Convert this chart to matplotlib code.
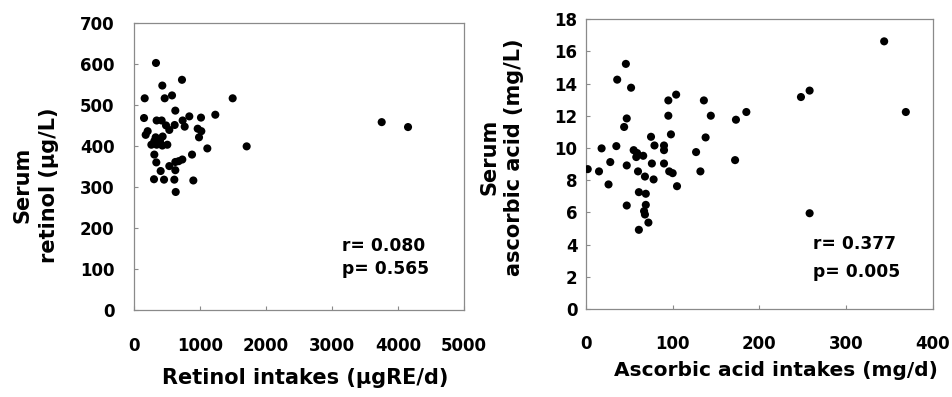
import matplotlib
matplotlib.use("Agg")
import matplotlib.pyplot as plt

# Left panel: retinol
retinol_intake = [333, 429, 727, 162, 465, 576, 1495, 626, 152, 343, 419, 737, 838, 1015, 1232,
                  485, 616, 768, 535, 207, 177, 328, 434, 965, 1020, 985, 263, 343, 429, 505,
                  308, 394, 1111, 308, 879, 338, 535, 626, 677, 732, 626, 404, 303, 455, 611,
                  899, 632, 1707, 3753, 4152]
serum_retinol = [602, 547, 561, 516, 516, 523, 516, 486, 468, 462, 462, 462, 472, 469, 476,
                 450, 451, 447, 439, 436, 427, 421, 423, 442, 436, 421, 403, 403, 401, 403,
                 412, 412, 394, 379, 379, 360, 351, 361, 363, 367, 341, 339, 319, 318, 318,
                 316, 288, 399, 458, 446]

# Right panel: ascorbic acid
ascorbic_intake = [46, 36, 52, 47, 44, 95, 104, 95, 98, 75, 79, 90, 90, 35, 18, 28, 2, 15, 26,
                   55, 59, 66, 58, 47, 76, 90, 60, 68, 78, 96, 100, 105, 61, 69, 69, 47, 67, 68,
                   72, 61, 127, 132, 136, 144, 138, 173, 185, 172, 248, 258, 344, 369, 258]
serum_ascorbic = [15.23, 14.25, 13.75, 11.84, 11.31, 12.96, 13.32, 12.01, 10.85, 10.70, 10.16,
                  10.16, 9.87, 10.12, 9.98, 9.13, 8.69, 8.55, 7.74, 9.87, 9.69, 9.52, 9.44, 8.92,
                  9.04, 9.04, 8.55, 8.23, 8.05, 8.55, 8.44, 7.63, 7.26, 7.16, 6.47, 6.43, 6.08,
                  5.87, 5.37, 4.92, 9.75, 8.55, 12.96, 12.01, 10.66, 11.76, 12.24, 9.25, 13.17,
                  13.57, 16.63, 12.24, 5.95]

left_xticks = [0, 1000, 2000, 3000, 4000, 5000]
left_yticks = [0, 100, 200, 300, 400, 500, 600, 700]
right_xticks = [0, 100, 200, 300, 400]
right_yticks = [0, 2, 4, 6, 8, 10, 12, 14, 16, 18]

left_stats = ["r= 0.080", "p= 0.565"]
right_stats = ["r= 0.377", "p= 0.005"]

W, H = 952, 397
plt.rcParams['font.family'] = ['DejaVu Sans']
plt.rcParams['font.weight'] = 'bold'
fig = plt.figure(figsize=(W / 100, H / 100), dpi=100)

def frac_box(l, t, r, b):
    return [l / W, 1 - b / H, (r - l) / W, (b - t) / H]

ax1 = fig.add_axes(frac_box(134, 22.7, 464, 310.3))
ax2 = fig.add_axes(frac_box(586, 19.3, 932.7, 309))

spine_col = '#8a8a8a'
for ax in (ax1, ax2):
    for s in ax.spines.values():
        s.set_color(spine_col)
        s.set_linewidth(0.9)
    ax.tick_params(direction='in', length=3, width=0.8, color=spine_col,
                   labelsize=12, labelcolor='black')

ax1.scatter(retinol_intake, serum_retinol, s=34, color='black', edgecolors='none', zorder=3)
ax1.set_xlim(0, 5000)
ax1.set_ylim(0, 700)
ax1.set_xticks(left_xticks)
ax1.set_yticks(left_yticks)
ax1.tick_params(axis='x', pad=19)
ax1.tick_params(axis='y', pad=14)
ax1.set_xticklabels([str(v) for v in left_xticks], fontweight='bold')
ax1.set_yticklabels([str(v) for v in left_yticks], fontweight='bold')

ax2.scatter(ascorbic_intake, serum_ascorbic, s=34, color='black', edgecolors='none', zorder=3)
ax2.set_xlim(0, 400)
ax2.set_ylim(0, 18)
ax2.set_xticks(right_xticks)
ax2.set_yticks(right_yticks)
ax2.tick_params(axis='x', pad=19)
ax2.tick_params(axis='y', pad=6)
ax2.set_xticklabels([str(v) for v in right_xticks], fontweight='bold')
ax2.set_yticklabels([str(v) for v in right_yticks], fontweight='bold')

fig.text(305 / W, 1 - 378 / H, "Retinol intakes (\u03bcgRE/d)", ha='center', va='center',
         fontsize=15, fontweight='bold')
fig.text(776 / W, 1 - 371 / H, "Ascorbic acid intakes (mg/d)", ha='center', va='center',
         fontsize=14.5, fontweight='bold')
fig.text(36 / W, 1 - 185 / H, "Serum\nretinol (\u03bcg/L)", ha='center', va='center',
         rotation=90, multialignment='center', fontsize=15, fontweight='bold',
         linespacing=1.4)
fig.text(502 / W, 1 - 157 / H, "Serum\nascorbic acid (mg/L)", ha='center', va='center',
         rotation=90, multialignment='center', fontsize=15, fontweight='bold',
         linespacing=1.3)

for txt, yf in zip(left_stats, [0.2236, 0.1436]):
    ax1.text(0.63, yf, txt, transform=ax1.transAxes, ha='left', va='center',
             fontsize=12.3, fontweight='bold')
for txt, yf in zip(right_stats, [0.2244, 0.1277]):
    ax2.text(0.654, yf, txt, transform=ax2.transAxes, ha='left', va='center',
             fontsize=12.3, fontweight='bold')

fig.savefig("out.png", dpi=100)
